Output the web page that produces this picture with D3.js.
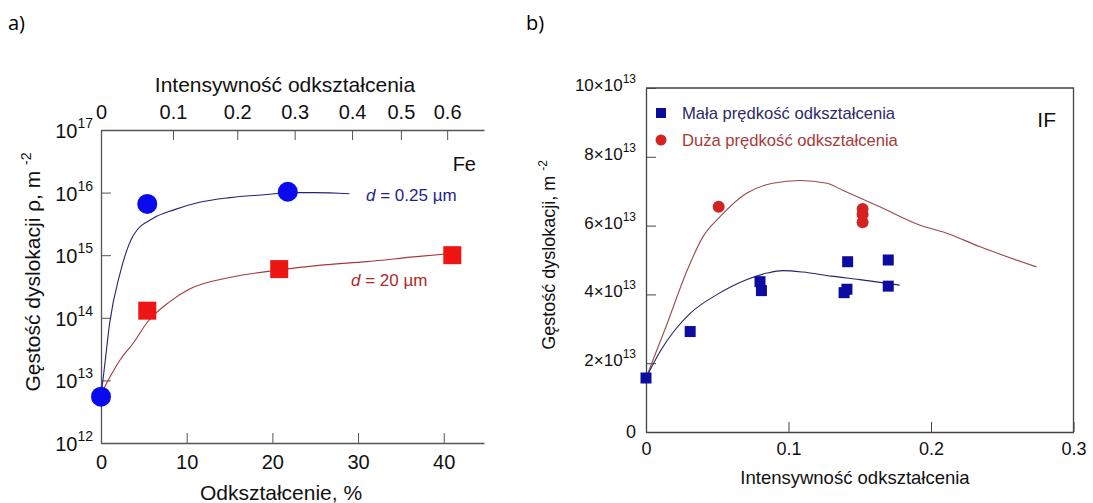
<!DOCTYPE html>
<html>
<head>
<meta charset="utf-8">
<script src="https://cdn.jsdelivr.net/npm/d3@7"></script>
<style>
  body { margin: 0; background: #fff; }
  svg text { font-family: "Liberation Sans", Arial, sans-serif; }
  svg text.panel { font-family: "Open Sans", sans-serif; }
</style>
</head>
<body>
<div id="chart"></div>
<script>
// ---- panel a: dislocation density vs strain (Fe) ----
const aFineX = [0, 5.4, 21.8];                 // d = 0.25 um, strain %
const aFineY = [5.5e12, 6.6e15, 1.03e16];
const aCoarseX = [5.4, 20.8, 41];              // d = 20 um
const aCoarseY = [1.3e14, 6.0e14, 1.0e15];
const aFineFitX = [0, 0.5, 1, 2.2, 3.8, 6.1, 8.5, 11.5, 15, 19.3, 22, 25, 29];
const aFineFitY = [5.5e12, 2.1e13, 8e13, 5e14, 2.1e15, 3.9e15, 5.3e15, 7e15, 8.3e15, 9.3e15, 1.0e16, 1.0e16, 9.6e15];
const aCoarseFitX = [0, 1, 2.2, 3.8, 5.4, 8, 10.4, 15, 20.8, 26, 31, 36.5, 42];
const aCoarseFitY = [6e12, 1.1e13, 2.1e13, 4e13, 8.5e13, 1.8e14, 2.9e14, 4.4e14, 5.8e14, 7e14, 7.9e14, 9.4e14, 1.1e15];
const aBottomTicks = [0, 10, 20, 30, 40];
const aTopTicks = ["0", "0.1", "0.2", "0.3", "0.4", "0.5", "0.6"];
const aTopTickAt = [0, 8.4, 15.9, 22.6, 29.3, 35.0, 40.4];   // where they sit on the strain % axis
const aDecades = [12, 13, 14, 15, 16, 17];

// ---- panel b: IF steel, units of 1e13 m^-2 ----
const bLowX = [0, 0.031, 0.080, 0.081, 0.139, 0.141, 0.1415, 0.170, 0.170];
const bLowY = [1.57, 2.92, 4.37, 4.11, 4.05, 4.15, 4.95, 5.0, 4.24];
const bHighX = [0.051, 0.152, 0.152, 0.152];
const bHighY = [6.55, 6.48, 6.32, 6.1];
const bLowFitX = [0, 0.01, 0.02, 0.031, 0.05, 0.07, 0.085, 0.096, 0.11, 0.13, 0.15, 0.178];
const bLowFitY = [1.57, 2.35, 2.95, 3.45, 4.0, 4.42, 4.62, 4.69, 4.65, 4.53, 4.43, 4.27];
const bHighFitX = [0, 0.014, 0.029, 0.04, 0.052, 0.0705, 0.089, 0.108, 0.127, 0.138, 0.164, 0.192, 0.211, 0.234, 0.274];
const bHighFitY = [1.57, 3.06, 4.71, 5.68, 6.26, 6.94, 7.23, 7.31, 7.23, 7.03, 6.55, 6.02, 5.78, 5.39, 4.8];
const bXTicks = [0, 0.1, 0.2, 0.3];
const bYTicks = [0, 2, 4, 6, 8, 10];

const W = 1093, H = 503;
const svg = d3.select("#chart").append("svg").attr("width", W).attr("height", H);
svg.append("rect").attr("width", W).attr("height", H).attr("fill", "#fff");

const zip = (xs, ys) => xs.map((x, i) => [x, ys[i]]);

// panel labels
svg.append("text").attr("class", "panel").attr("x", 8).attr("y", 30).style("font-size", "20px").text("a)");
svg.append("text").attr("class", "panel").attr("x", 526).attr("y", 30).style("font-size", "20px").text("b)");

// ================= panel a =================
const ax = d3.scaleLinear().domain([0, 44.7]).range([101, 484]);
const ay = d3.scaleLog().domain([1e12, 1e17]).range([443, 130]);
const aAxisColor = "#555";

const aBottom = svg.append("g").attr("transform", `translate(0,${ay(1e12)})`)
  .call(d3.axisBottom(ax).tickValues(aBottomTicks).tickSize(-10).tickSizeOuter(0).tickPadding(12));
aBottom.selectAll("text").style("font-size", "20px").attr("fill", "#111");

const aTop = svg.append("g").attr("transform", `translate(0,${ay(1e17)})`)
  .call(d3.axisTop(ax).tickValues(aTopTickAt).tickFormat((d, i) => aTopTicks[i])
    .tickSize(-10).tickSizeOuter(0).tickPadding(11));
aTop.selectAll("text").style("font-size", "20px").attr("fill", "#111");

const aLeft = svg.append("g").attr("transform", `translate(${ax(0)},0)`)
  .call(d3.axisLeft(ay).tickValues(aDecades.map(e => Math.pow(10, e))).tickFormat("")
    .tickSize(-10).tickSizeOuter(0));
[aBottom, aTop, aLeft].forEach(g => {
  g.select(".domain").attr("stroke", aAxisColor).attr("stroke-width", 1.3);
  g.selectAll(".tick line").attr("stroke", aAxisColor);
});

const aLab = svg.append("g").style("font-size", "20px").attr("fill", "#111");
aDecades.forEach(e => {
  const t = aLab.append("text").attr("x", 93).attr("y", ay(Math.pow(10, e)) + 8)
    .attr("text-anchor", "end");
  t.append("tspan").text("10");
  t.append("tspan").attr("dy", -10).style("font-size", "14px").text(e);
});

svg.append("text").attr("x", 285).attr("y", 92).attr("text-anchor", "middle")
  .style("font-size", "21px").attr("fill", "#111").text("Intensywność odkształcenia");
svg.append("text").attr("x", 281).attr("y", 500).attr("text-anchor", "middle")
  .style("font-size", "21px").attr("fill", "#111").text("Odkształcenie, %");

const aYLab = svg.append("text").attr("transform", "translate(40,272) rotate(-90)")
  .attr("text-anchor", "middle").style("font-size", "21px").attr("fill", "#111");
aYLab.append("tspan").text("Gęstość dyslokacji ρ, m ");
aYLab.append("tspan").attr("dy", -9).style("font-size", "14px").text("-2");

const aLine = d3.line().x(d => ax(d[0])).y(d => ay(d[1])).curve(d3.curveMonotoneX);
svg.append("path").datum(zip(aFineFitX, aFineFitY)).attr("d", aLine)
  .attr("fill", "none").attr("stroke", "#23237a").attr("stroke-width", 1.1);
svg.append("path").datum(zip(aCoarseFitX, aCoarseFitY)).attr("d", aLine)
  .attr("fill", "none").attr("stroke", "#a33a3a").attr("stroke-width", 1.1);

svg.selectAll(".aFine").data(zip(aFineX, aFineY)).enter().append("circle")
  .attr("cx", d => ax(d[0])).attr("cy", d => ay(d[1])).attr("r", 10).attr("fill", "#0a0aee");
svg.selectAll(".aCoarse").data(zip(aCoarseX, aCoarseY)).enter().append("rect")
  .attr("x", d => ax(d[0]) - 9).attr("y", d => ay(d[1]) - 9)
  .attr("width", 18).attr("height", 18).attr("fill", "#ee1515");

svg.append("text").attr("x", 476).attr("y", 171).attr("text-anchor", "end")
  .style("font-size", "20px").attr("fill", "#111").text("Fe");
const dFine = svg.append("text").attr("x", 366).attr("y", 201).style("font-size", "17px").attr("fill", "#1f1f8f");
dFine.append("tspan").style("font-style", "italic").text("d");
dFine.append("tspan").text(" = 0.25 µm");
const dCoarse = svg.append("text").attr("x", 351).attr("y", 286).style("font-size", "17px").attr("fill", "#b02a2a");
dCoarse.append("tspan").style("font-style", "italic").text("d");
dCoarse.append("tspan").text(" = 20 µm");

// ================= panel b =================
const bx = d3.scaleLinear().domain([0, 0.3]).range([646, 1073.5]);
const by = d3.scaleLinear().domain([0, 10]).range([432, 88]);
const bAxisColor = "#444";

const bBottom = svg.append("g").attr("transform", `translate(0,${by(0)})`)
  .call(d3.axisBottom(bx).tickValues(bXTicks).tickFormat(d => d === 0 ? "0" : d3.format(".1f")(d))
    .tickSize(-10).tickSizeOuter(0).tickPadding(10));
bBottom.selectAll("text").style("font-size", "18px").attr("fill", "#111");
const bLeft = svg.append("g").attr("transform", `translate(${bx(0)},0)`)
  .call(d3.axisLeft(by).tickValues(bYTicks).tickFormat("").tickSize(-10).tickSizeOuter(0));
[bBottom, bLeft].forEach(g => {
  g.select(".domain").attr("stroke", bAxisColor).attr("stroke-width", 1.3);
  g.selectAll(".tick line").attr("stroke", bAxisColor);
});
// top and right frame
svg.append("path")
  .attr("d", `M${bx(0)},${by(10)}H${bx(0.3)}V${by(0)}`)
  .attr("fill", "none").attr("stroke", bAxisColor).attr("stroke-width", 1.3);

const bLab = svg.append("g").style("font-size", "17px").attr("fill", "#111");
bYTicks.forEach(v => {
  const t = bLab.append("text").attr("x", 636).attr("y", by(v) + 3).attr("text-anchor", "end");
  if (v === 0) { t.style("font-size", "18px").attr("y", by(v) + 6).text("0"); return; }
  t.append("tspan").text(v + "×10");
  t.append("tspan").attr("dy", -8).style("font-size", "12px").text("13");
});

svg.append("text").attr("x", 855).attr("y", 484).attr("text-anchor", "middle")
  .style("font-size", "18.5px").attr("fill", "#111").text("Intensywność odkształcenia");
const bYLab = svg.append("text").attr("transform", "translate(555,255) rotate(-90)")
  .attr("text-anchor", "middle").style("font-size", "18px").attr("fill", "#111");
bYLab.append("tspan").text("Gęstość dyslokacji, m ");
bYLab.append("tspan").attr("dy", -8).style("font-size", "12px").text("-2");

const bLine = d3.line().x(d => bx(d[0])).y(d => by(d[1])).curve(d3.curveMonotoneX);
svg.append("path").datum(zip(bHighFitX, bHighFitY)).attr("d", bLine)
  .attr("fill", "none").attr("stroke", "#9a4a4a").attr("stroke-width", 1.1);
svg.append("path").datum(zip(bLowFitX, bLowFitY)).attr("d", bLine)
  .attr("fill", "none").attr("stroke", "#25255e").attr("stroke-width", 1.1);

svg.selectAll(".bHigh").data(zip(bHighX, bHighY)).enter().append("circle")
  .attr("cx", d => bx(d[0])).attr("cy", d => by(d[1])).attr("r", 6).attr("fill", "#d42222");
svg.selectAll(".bLow").data(zip(bLowX, bLowY)).enter().append("rect")
  .attr("x", d => bx(d[0]) - 5.5).attr("y", d => by(d[1]) - 5.5)
  .attr("width", 11).attr("height", 11).attr("fill", "#0c0ca0");

// legend
const leg = svg.append("g").style("font-size", "16.6px");
leg.append("rect").attr("x", 656).attr("y", 108).attr("width", 10).attr("height", 10).attr("fill", "#0c0ca0");
leg.append("text").attr("x", 682).attr("y", 119).attr("fill", "#2b2b66").text("Mała prędkość odkształcenia");
leg.append("circle").attr("cx", 661).attr("cy", 140).attr("r", 5.5).attr("fill", "#d42222");
leg.append("text").attr("x", 682).attr("y", 146).attr("fill", "#a83a3a").text("Duża prędkość odkształcenia");
svg.append("text").attr("x", 1056).attr("y", 127).attr("text-anchor", "end")
  .style("font-size", "21px").attr("fill", "#111").text("IF");
</script>
</body>
</html>
